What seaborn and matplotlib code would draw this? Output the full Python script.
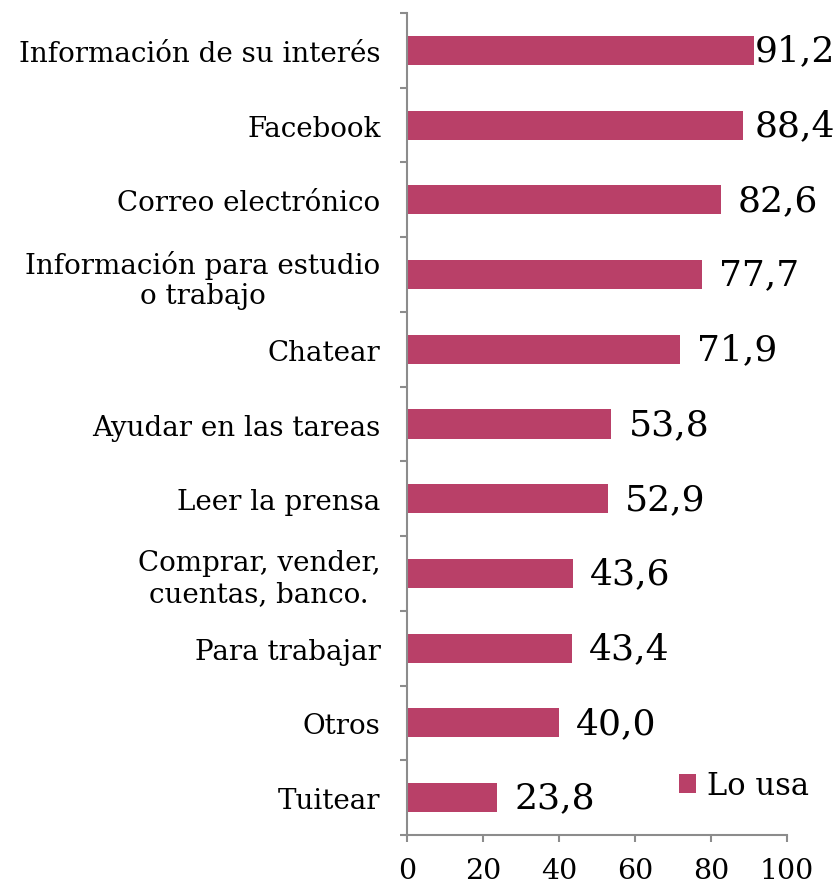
import matplotlib
matplotlib.use("Agg")
import matplotlib.pyplot as plt
import numpy as np
import pandas as pd
import seaborn as sns

categories = [
    "Información de su interés",
    "Facebook",
    "Correo electrónico",
    "Información para estudio\no trabajo",
    "Chatear",
    "Ayudar en las tareas",
    "Leer la prensa",
    "Comprar, vender,\ncuentas, banco.",
    "Para trabajar",
    "Otros",
    "Tuitear",
]
values = [91.2, 88.4, 82.6, 77.7, 71.9, 53.8, 52.9, 43.6, 43.4, 40.0, 23.8]
series_name = "Lo usa"
x_ticks = [0, 20, 40, 60, 80, 100]

bar_color = "#B94068"
axis_color = "#8C8C8C"

sns.set_theme(style="white")
plt.rcParams["font.family"] = ["DejaVu Serif"]
plt.rcParams["text.color"] = "black"
plt.rcParams["xtick.color"] = "black"
plt.rcParams["ytick.color"] = "black"

df = pd.DataFrame({"cat": categories, "val": values, "serie": series_name})

fig = plt.figure(figsize=(8.4, 8.87), dpi=100)
ax = fig.add_axes([0.4845, 0.0575, 0.4524, 0.9267])

sns.barplot(data=df, y="cat", x="val", hue="serie", palette=[bar_color],
            orient="h", width=0.39, saturation=1, linewidth=0, ax=ax, legend=True)

ax.set_xlim(0, 100)
ax.set_ylim(len(categories) - 0.5, -0.5)
ax.set_xlabel("")
ax.set_ylabel("")

for s in ["top", "right"]:
    ax.spines[s].set_visible(False)
for s in ["left", "bottom"]:
    ax.spines[s].set_color(axis_color)
    ax.spines[s].set_linewidth(1.5)

ax.set_xticks(x_ticks)
ax.set_xticklabels([str(t) for t in x_ticks])
ax.tick_params(axis="x", direction="out", length=5, width=1.5, color=axis_color,
               labelcolor="black", labelsize=20.5, pad=11, bottom=True)

ax.set_yticks(np.arange(len(categories)))
ax.set_yticklabels(categories, fontsize=20, multialignment="center",
                   linespacing=1.15, color="black")
ax.tick_params(axis="y", which="major", length=0, pad=19)
ax.set_yticks(np.arange(len(categories) + 1) - 0.5, minor=True)
ax.tick_params(axis="y", which="minor", direction="out", length=5, width=1.5,
               color=axis_color, left=True)

# value labels, kept inside the figure for the longest bars
pad = 4.5
limit = 91.6
for i, v in enumerate(values):
    xpos = min(v + pad, limit)
    ax.text(xpos, i, f"{v:.1f}".replace(".", ","), va="center", ha="left",
            fontsize=26, color="black", clip_on=False)

leg = ax.legend(loc="center right", bbox_to_anchor=(1.057, 0.06), frameon=False,
                fontsize=22, handlelength=0.55, handleheight=0.55,
                handletextpad=0.35, borderaxespad=0, borderpad=0)
for t in leg.get_texts():
    t.set_color("black")

fig.savefig("out.png", dpi=100)
